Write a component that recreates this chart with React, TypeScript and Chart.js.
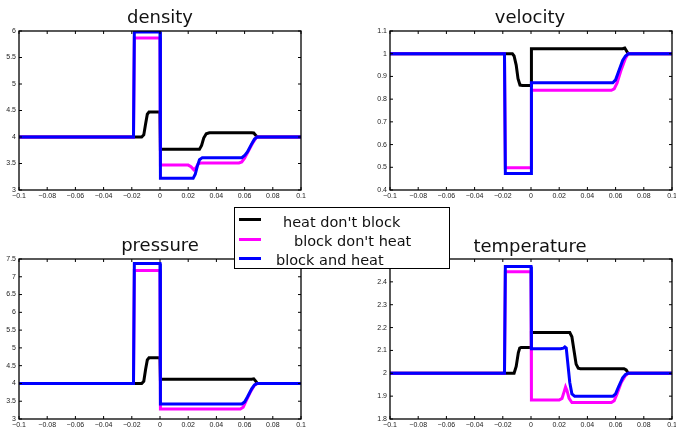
import React, { useEffect, useRef } from 'react';
import { Chart, registerables } from 'chart.js';

Chart.register(...registerables);

type Pt = [number, number];

// ---------- data ----------
const seriesLabels = ["heat don't block", "block don't heat", 'block and heat'];
const seriesColors = ['#000000', '#ff00ff', '#0000ff'];

const densityHeat: Pt[] = [
  [-0.1, 4], [-0.013, 4], [-0.0115, 4.04], [-0.0102, 4.25], [-0.009, 4.43], [-0.0078, 4.47], [0, 4.47],
  [0.0003, 3.77], [0.028, 3.77], [0.0295, 3.84], [0.031, 3.98], [0.0328, 4.06], [0.035, 4.08],
  [0.065, 4.08], [0.0665, 4.075], [0.068, 4.03], [0.069, 4], [0.1, 4],
];
const densityBlock: Pt[] = [
  [-0.1, 4], [-0.0188, 4], [-0.0182, 5.87], [0, 5.87], [0.0003, 3.47], [0.02, 3.47], [0.022, 3.44],
  [0.024, 3.38], [0.0255, 3.42], [0.027, 3.49], [0.029, 3.51], [0.056, 3.51], [0.058, 3.53],
  [0.06, 3.6], [0.063, 3.75], [0.066, 3.9], [0.068, 3.98], [0.069, 4], [0.1, 4],
];
const densityBoth: Pt[] = [
  [-0.1, 4], [-0.0188, 4], [-0.0182, 5.98], [0, 5.98], [0.0003, 3.22], [0.0235, 3.22], [0.025, 3.3],
  [0.0265, 3.45], [0.028, 3.57], [0.03, 3.61], [0.058, 3.61], [0.06, 3.65], [0.062, 3.72],
  [0.065, 3.87], [0.067, 3.96], [0.069, 4], [0.1, 4],
];

const velocityHeat: Pt[] = [
  [-0.1, 1], [-0.0132, 1], [-0.012, 0.99], [-0.0105, 0.95], [-0.0092, 0.89], [-0.0078, 0.862],
  [-0.006, 0.86], [0, 0.86], [0.0003, 1.022], [0.065, 1.022], [0.0665, 1.025], [0.068, 1.01],
  [0.069, 1], [0.1, 1],
];
const velocityBlock: Pt[] = [
  [-0.1, 1], [-0.0188, 1], [-0.0182, 0.498], [0, 0.498], [0.0003, 0.839], [0.057, 0.839],
  [0.059, 0.845], [0.061, 0.87], [0.064, 0.93], [0.067, 0.98], [0.069, 1], [0.1, 1],
];
const velocityBoth: Pt[] = [
  [-0.1, 1], [-0.0188, 1], [-0.0182, 0.473], [0, 0.473], [0.0003, 0.872], [0.058, 0.872],
  [0.06, 0.885], [0.062, 0.92], [0.065, 0.97], [0.067, 0.99], [0.069, 1], [0.1, 1],
];

const pressureHeat: Pt[] = [
  [-0.1, 4], [-0.013, 4], [-0.0115, 4.06], [-0.0102, 4.4], [-0.009, 4.66], [-0.0078, 4.72], [0, 4.72],
  [0.0003, 4.12], [0.065, 4.12], [0.0665, 4.13], [0.068, 4.06], [0.069, 4], [0.1, 4],
];
const pressureBlock: Pt[] = [
  [-0.1, 4], [-0.0188, 4], [-0.0182, 7.18], [0, 7.18], [0.0003, 3.28], [0.057, 3.28], [0.059, 3.33],
  [0.061, 3.5], [0.064, 3.75], [0.067, 3.95], [0.069, 4], [0.1, 4],
];
const pressureBoth: Pt[] = [
  [-0.1, 4], [-0.0188, 4], [-0.0182, 7.37], [0, 7.37], [0.0003, 3.42], [0.058, 3.42], [0.06, 3.48],
  [0.062, 3.62], [0.065, 3.85], [0.067, 3.96], [0.069, 4], [0.1, 4],
];

const temperatureHeat: Pt[] = [
  [-0.1, 2], [-0.012, 2], [-0.0105, 2.03], [-0.009, 2.09], [-0.008, 2.11], [-0.007, 2.113], [0, 2.113],
  [0.0003, 2.178], [0.0275, 2.178], [0.029, 2.16], [0.0305, 2.1], [0.032, 2.04], [0.0335, 2.022],
  [0.035, 2.02], [0.066, 2.02], [0.0675, 2.015], [0.069, 2], [0.1, 2],
];
const temperatureBlock: Pt[] = [
  [-0.1, 2], [-0.0188, 2], [-0.0182, 2.444], [0, 2.444], [0.0003, 1.883], [0.02, 1.883], [0.022, 1.89],
  [0.0235, 1.92], [0.0245, 1.94], [0.0255, 1.925], [0.027, 1.89], [0.029, 1.872], [0.057, 1.872],
  [0.059, 1.88], [0.061, 1.91], [0.064, 1.96], [0.067, 1.99], [0.069, 2], [0.1, 2],
];
const temperatureBoth: Pt[] = [
  [-0.1, 2], [-0.0188, 2], [-0.0182, 2.467], [0, 2.467], [0.0003, 2.107], [0.021, 2.107], [0.023, 2.11],
  [0.024, 2.115], [0.025, 2.11], [0.026, 2.05], [0.0275, 1.96], [0.029, 1.91], [0.031, 1.899],
  [0.058, 1.899], [0.06, 1.91], [0.062, 1.94], [0.065, 1.98], [0.067, 1.995], [0.069, 2], [0.1, 2],
];

const xMin = -0.1;
const xMax = 0.1;
const xStep = 0.02;

// ---------- layout ----------
type Panel = {
  title: string;
  series: Pt[][];
  yMin: number;
  yMax: number;
  yStep: number;
  area: { l: number; t: number; r: number; b: number };
  canvas: { x: number; y: number; w: number; h: number };
  titleX: number;
  titleTop: number;
};

const panels: Panel[] = [
  {
    title: 'density', series: [densityHeat, densityBlock, densityBoth], yMin: 3, yMax: 6, yStep: 0.5,
    area: { l: 19, t: 31, r: 301, b: 190 }, canvas: { x: 0, y: 20, w: 335, h: 192 }, titleX: 160, titleTop: 8,
  },
  {
    title: 'velocity', series: [velocityHeat, velocityBlock, velocityBoth], yMin: 0.4, yMax: 1.1, yStep: 0.1,
    area: { l: 390, t: 31, r: 672, b: 190 }, canvas: { x: 335, y: 20, w: 350, h: 192 }, titleX: 530, titleTop: 8,
  },
  {
    title: 'pressure', series: [pressureHeat, pressureBlock, pressureBoth], yMin: 3, yMax: 7.5, yStep: 0.5,
    area: { l: 19, t: 259, r: 301, b: 419 }, canvas: { x: 0, y: 250, w: 335, h: 185 }, titleX: 160, titleTop: 236,
  },
  {
    title: 'temperature', series: [temperatureHeat, temperatureBlock, temperatureBoth], yMin: 1.8, yMax: 2.5, yStep: 0.1,
    area: { l: 390, t: 259, r: 672, b: 419 }, canvas: { x: 335, y: 250, w: 350, h: 185 }, titleX: 530, titleTop: 237,
  },
];

const fmt = (v: number | string) => {
  const n = Math.round(Number(v) * 1000) / 1000;
  return n < 0 ? '\u2212' + String(-n) : String(n);
};

const boxPlugin = {
  id: 'matlabBox',
  afterDatasetsDraw(chart: any) {
    const { ctx, chartArea: a, scales } = chart;
    const L = 3;
    ctx.save();
    ctx.strokeStyle = '#000';
    ctx.lineWidth = 1;
    ctx.beginPath();
    scales.x.ticks.forEach((t: any) => {
      const px = scales.x.getPixelForValue(t.value);
      ctx.moveTo(px, a.bottom);
      ctx.lineTo(px, a.bottom - L);
      ctx.moveTo(px, a.top);
      ctx.lineTo(px, a.top + L);
    });
    scales.y.ticks.forEach((t: any) => {
      const py = scales.y.getPixelForValue(t.value);
      ctx.moveTo(a.left, py);
      ctx.lineTo(a.left + L, py);
      ctx.moveTo(a.right, py);
      ctx.lineTo(a.right - L, py);
    });
    ctx.stroke();
    ctx.lineWidth = 1.3;
    ctx.strokeRect(a.left, a.top, a.right - a.left, a.bottom - a.top);
    ctx.restore();
  },
};

const tickFont = { family: "'Liberation Sans', Arial, sans-serif", size: 7 };

function PanelChart({ p }: { p: Panel }) {
  const ref = useRef<HTMLCanvasElement>(null);
  useEffect(() => {
    const { area, canvas } = p;
    const chart = new Chart(ref.current as HTMLCanvasElement, {
      type: 'line',
      data: {
        datasets: p.series.map((s, i) => ({
          label: seriesLabels[i],
          data: s.map(([x, y]) => ({ x, y })),
          borderColor: seriesColors[i],
          backgroundColor: seriesColors[i],
          borderWidth: 3,
          pointRadius: 0,
          tension: 0,
          fill: false,
          order: 3 - i,
        })),
      },
      options: {
        responsive: false,
        animation: false,
        devicePixelRatio: 1,
        events: [],
        layout: {
          padding: { left: 0, top: area.t - canvas.y, right: canvas.x + canvas.w - area.r, bottom: 0 },
        },
        plugins: { legend: { display: false }, tooltip: { enabled: false }, title: { display: false } },
        scales: {
          x: {
            type: 'linear',
            min: xMin,
            max: xMax,
            ticks: {
              stepSize: xStep, autoSkip: false, maxRotation: 0, padding: 2, color: '#222',
              font: tickFont, callback: (v: any) => fmt(v),
            },
            grid: { display: false, drawTicks: false },
            border: { display: false },
            afterFit: (s: any) => { s.height = canvas.y + canvas.h - area.b; },
          },
          y: {
            type: 'linear',
            min: p.yMin,
            max: p.yMax,
            ticks: {
              stepSize: p.yStep, autoSkip: false, padding: 3, color: '#222',
              font: tickFont, callback: (v: any) => fmt(v),
            },
            grid: { display: false, drawTicks: false },
            border: { display: false },
            afterFit: (s: any) => { s.width = area.l - canvas.x; },
          },
        },
      } as any,
      plugins: [boxPlugin],
    });
    return () => chart.destroy();
  }, []);
  return (
    <canvas
      ref={ref}
      width={p.canvas.w}
      height={p.canvas.h}
      style={{ position: 'absolute', left: p.canvas.x, top: p.canvas.y, width: p.canvas.w, height: p.canvas.h }}
    />
  );
}

const textFont = "'DejaVu Sans', Verdana, sans-serif";

const legendRows = [
  { lineY: 219, textX: 283, textTop: 215 },
  { lineY: 239, textX: 294, textTop: 234 },
  { lineY: 258, textX: 276, textTop: 253 },
];

export default function App() {
  return (
    <div
      style={{
        position: 'fixed', left: 0, top: 0, width: 676, height: 428,
        background: '#fff', overflow: 'hidden',
      }}
    >
      {panels.map((p) => (
        <PanelChart key={p.title} p={p} />
      ))}
      {panels.map((p) => (
        <div
          key={p.title + '-t'}
          style={{
            position: 'absolute', left: p.titleX - 100, width: 200, top: p.titleTop, textAlign: 'center',
            fontFamily: textFont, fontSize: 18, lineHeight: '18px', color: '#111', whiteSpace: 'nowrap',
          }}
        >
          {p.title}
        </div>
      ))}
      <div
        style={{
          position: 'absolute', left: 234, top: 207, width: 216, height: 62, boxSizing: 'border-box',
          border: '1.3px solid #000', background: '#fff',
        }}
      />
      {legendRows.map((r, i) => (
        <React.Fragment key={i}>
          <div
            style={{
              position: 'absolute', left: 239, top: r.lineY - 1.5, width: 22, height: 3, background: seriesColors[i],
            }}
          />
          <div
            style={{
              position: 'absolute', left: r.textX, top: r.textTop, fontFamily: textFont, fontSize: 14.5,
              lineHeight: '15px', color: '#111', whiteSpace: 'nowrap',
            }}
          >
            {seriesLabels[i]}
          </div>
        </React.Fragment>
      ))}
    </div>
  );
}
